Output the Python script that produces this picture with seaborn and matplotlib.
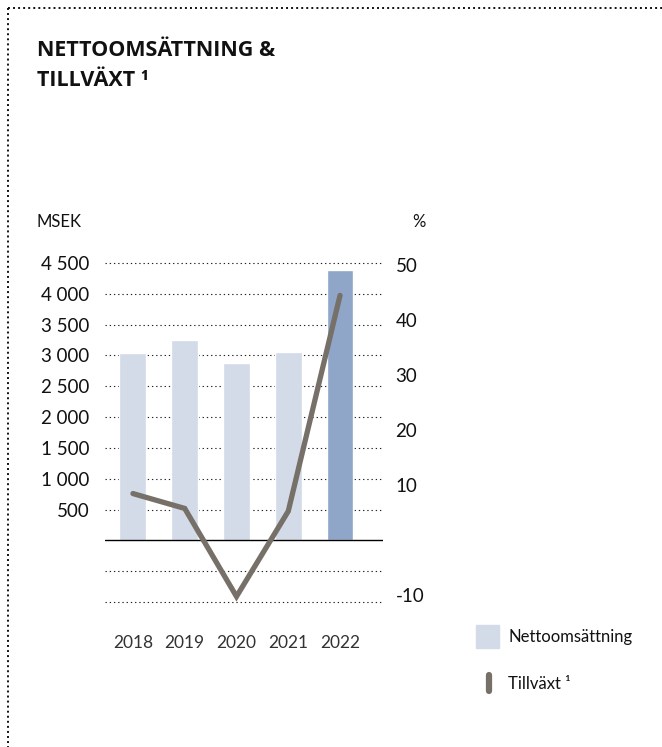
import numpy as np
import pandas as pd
import seaborn as sns
import matplotlib
matplotlib.use("Agg")
from matplotlib import pyplot as plt
from matplotlib.lines import Line2D
from matplotlib.patches import Rectangle

# data
years = ["2018", "2019", "2020", "2021", "2022"]
net_sales = [3040, 3250, 2875, 3055, 4385]          # MSEK
growth = [8.5, 5.8, -10.2, 5.3, 44.5]               # %
left_ticks = [500, 1000, 1500, 2000, 2500, 3000, 3500, 4000, 4500]
left_labels = ["500", "1 000", "1 500", "2 000", "2 500", "3 000", "3 500", "4 000", "4 500"]
right_ticks = [-10, 10, 20, 30, 40, 50]
grid_levels = [-1000, -500, 500, 1000, 1500, 2000, 2500, 3000, 3500, 4000, 4500]

bar_light = "#d3dae8"
bar_dark = "#8fa6c8"
line_col = "#767069"

sns.set_style("white")
plt.rcParams["font.family"] = ["Lato", "DejaVu Sans"]

W, H = 662, 747
fig = plt.figure(figsize=(W / 100, H / 100), dpi=100)

# axes placed in pixel terms
ax_l, ax_r, ax_t, ax_b = 105, 383, 263, 602
ax = fig.add_axes([ax_l / W, 1 - ax_b / H, (ax_r - ax_l) / W, (ax_b - ax_t) / H])

df = pd.DataFrame({"year": years, "sales": net_sales, "growth": growth})
colors = [bar_light] * (len(years) - 1) + [bar_dark]

# gridlines first so bars cover them
for g in grid_levels:
    ax.axhline(g, color="#222222", lw=0.8, ls=(0, (1.2, 2.6)), zorder=0, clip_on=False)
ax.axhline(0, color="black", lw=1.0, zorder=3)

sns.barplot(data=df, x="year", y="sales", hue="year", palette=colors,
            width=0.52, legend=False, ax=ax, zorder=2, saturation=1)

ax.set_ylim(-1000, 4500)
ax.set_xlim(-0.54, 4.83)
ax.set_yticks(left_ticks)
ax.set_yticklabels(left_labels)
ax.set_xlabel("")
ax.set_ylabel("")
ax.tick_params(axis="y", length=0, pad=11, labelsize=13.5, labelcolor="#111111")
ax.tick_params(axis="x", length=0, pad=24, labelsize=12.5, labelcolor="#333333")
for s in ax.spines.values():
    s.set_visible(False)

# growth on the right axis, 0 aligned with left 0
ax2 = ax.twinx()
ax2.set_ylim(-1000 / 89.3, 4500 / 89.3)
sns.lineplot(x=np.arange(len(years)), y=growth, ax=ax2, color=line_col,
             lw=3.8, solid_capstyle="round", solid_joinstyle="miter", zorder=4)
ax2.set_yticks(right_ticks)
ax2.set_yticklabels([str(t) for t in right_ticks])
ax2.tick_params(axis="y", length=0, pad=9, labelsize=13.5, labelcolor="#111111")
ax2.set_xlim(-0.54, 4.83)
for s in ax2.spines.values():
    s.set_visible(False)

# unit labels
fig.text(37 / W, 1 - 222 / H, "MSEK", fontsize=12, va="center", ha="left", color="#111111")
fig.text(419 / W, 1 - 222 / H, "%", fontsize=12, va="center", ha="center", color="#111111")

# title
fig.text(37 / W, 1 - 50 / H, "NETTOOMSÄTTNING &", fontsize=15.5, fontweight="bold",
         family=["Open Sans", "DejaVu Sans"], va="center", ha="left", color="#111111")
fig.text(37 / W, 1 - 81 / H, "TILLVÄXT ¹", fontsize=15.5, fontweight="bold",
         family=["Open Sans", "DejaVu Sans"], va="center", ha="left", color="#111111")

# legend
fig.patches.append(Rectangle((476 / W, 1 - 648 / H), 23 / W, 23 / H,
                             transform=fig.transFigure, color=bar_light))
fig.text(508 / W, 1 - 637 / H, "Nettoomsättning", fontsize=12, va="center", color="#111111")
fig.lines.append(Line2D([489 / W, 489 / W], [1 - 675 / H, 1 - 691 / H],
                        transform=fig.transFigure, color=line_col, lw=4.5,
                        solid_capstyle="round"))
fig.text(508 / W, 1 - 684 / H, "Tillväxt ¹", fontsize=12, va="center", color="#111111")

# dotted frame (top and left)
frame_kw = dict(transform=fig.transFigure, color="#111111", lw=1.4, ls=(0, (1, 1.6)))
fig.lines.append(Line2D([8 / W, 1], [1 - 8 / H, 1 - 8 / H], **frame_kw))
fig.lines.append(Line2D([8 / W, 8 / W], [1 - 8 / H, 0], **frame_kw))

fig.savefig("out.png", dpi=100)
